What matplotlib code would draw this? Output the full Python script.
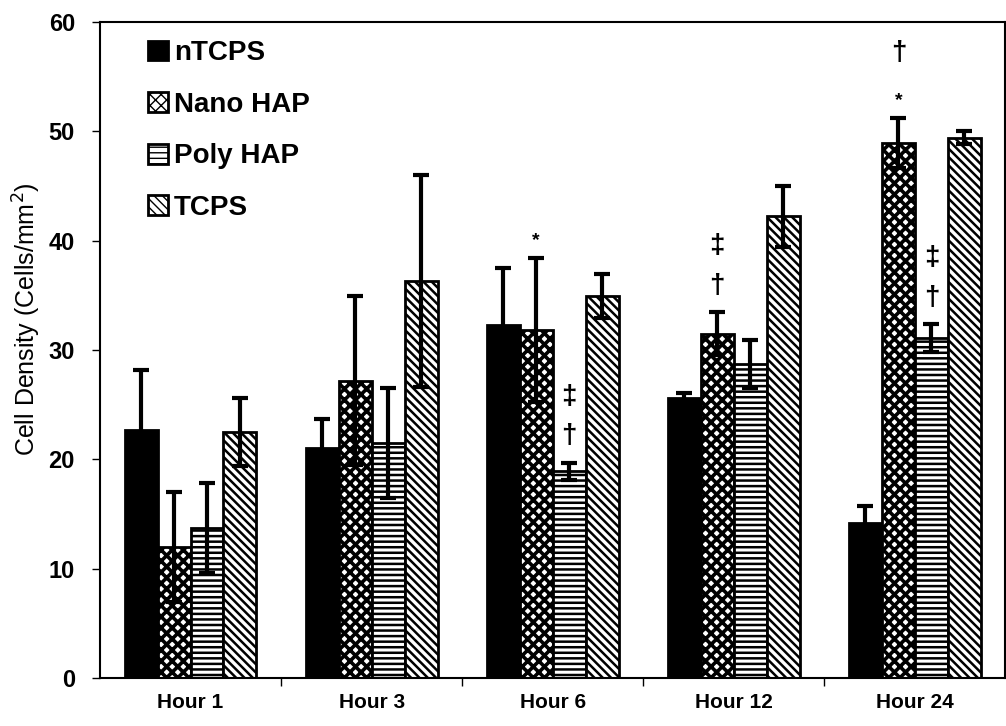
import numpy as np
import matplotlib
matplotlib.use("Agg")
import matplotlib.pyplot as plt

plt.rcParams["font.family"] = ["Liberation Sans", "DejaVu Sans"]

# ---------------- datos ----------------
hours = ["Hour 1", "Hour 3", "Hour 6", "Hour 12", "Hour 24"]
series = ["nTCPS", "Nano HAP", "Poly HAP", "TCPS"]
ntcps = [22.7, 21.0, 32.3, 25.6, 14.2]
nano_hap = [12.0, 27.2, 31.8, 31.5, 48.9]
poly_hap = [13.7, 21.5, 18.9, 28.7, 31.1]
tcps = [22.5, 36.3, 34.9, 42.2, 49.4]
err_ntcps = [5.5, 2.7, 5.2, 0.5, 1.5]
err_nano = [5.0, 7.7, 6.6, 2.0, 2.3]
err_poly = [4.1, 5.0, 0.8, 2.2, 1.3]
err_tcps = [3.1, 9.7, 2.0, 2.8, 0.6]
# marcas de significancia: (serie, hora, simbolos de abajo hacia arriba)
marks = [(1, 2, ["*"]), (2, 2, ["\u2020", "\u2021"]), (1, 3, ["\u2020", "\u2021"]),
         (1, 4, ["*", "\u2020"]), (2, 4, ["\u2020", "\u2021"])]

vals = [ntcps, nano_hap, poly_hap, tcps]
errs = [err_ntcps, err_nano, err_poly, err_tcps]
hatches = [None, "xxx", "---", "\\\\\\\\"]
hatch_lw = [1.0, 2.6, 1.8, 1.8]
faces = ["black", "white", "white", "white"]

fig = plt.figure(figsize=(10.06, 7.26), dpi=100)
ax = fig.add_axes([0.0994, 0.066, 0.9, 0.904])

x = np.arange(len(hours))
w = 0.182
for i, (v, e) in enumerate(zip(vals, errs)):
    xi = x + (i - 1.5) * w
    with plt.rc_context({"hatch.linewidth": hatch_lw[i]}):
        ax.bar(xi, v, w, color=faces[i], edgecolor="black", hatch=hatches[i],
               linewidth=2, label=series[i], zorder=2)
    ax.errorbar(xi, v, yerr=e, fmt="none", ecolor="black", elinewidth=3,
                capsize=6, capthick=3, zorder=3)

for s, h, syms in marks:
    xi = x[h] + (s - 1.5) * w
    y0 = vals[s][h] + errs[s][h]
    for k, sym in enumerate(syms):
        if sym == "*":
            ax.text(xi, y0 + 0.8 + k * 3.5, sym, ha="center", va="bottom",
                    fontsize=14, fontweight="bold")
        else:
            ax.text(xi, y0 + 1.2 + k * 3.6, sym, ha="center", va="bottom",
                    fontsize=20, fontweight="bold")

ax.set_xlim(-0.5, 4.5)
ax.set_ylim(0, 60)
ax.set_yticks(range(0, 61, 10))
ax.set_xticks(x)
ax.set_xticklabels(hours, fontsize=15, fontweight="bold")
ax.set_xticks(np.arange(0.5, 4.5, 1), minor=True)
ax.tick_params(axis="x", which="major", length=0, pad=11)
ax.tick_params(axis="x", which="minor", length=6, width=1)
ax.tick_params(axis="y", length=6, width=1, pad=12)
for lab in ax.get_yticklabels():
    lab.set_fontsize(17)
    lab.set_fontweight("bold")
ax.set_ylabel("Cell Density (Cells/mm$^2$)", fontsize=18)
ax.yaxis.set_label_coords(-0.063, 0.547)
for sp in ax.spines.values():
    sp.set_linewidth(1.5)

ax.legend(loc="upper left", bbox_to_anchor=(0.025, 1.01), frameon=False,
          handlelength=0.72, handleheight=0.72, handletextpad=0.22,
          labelspacing=0.92, prop={"weight": "bold", "size": 20})

fig.savefig("out.png", dpi=100)
